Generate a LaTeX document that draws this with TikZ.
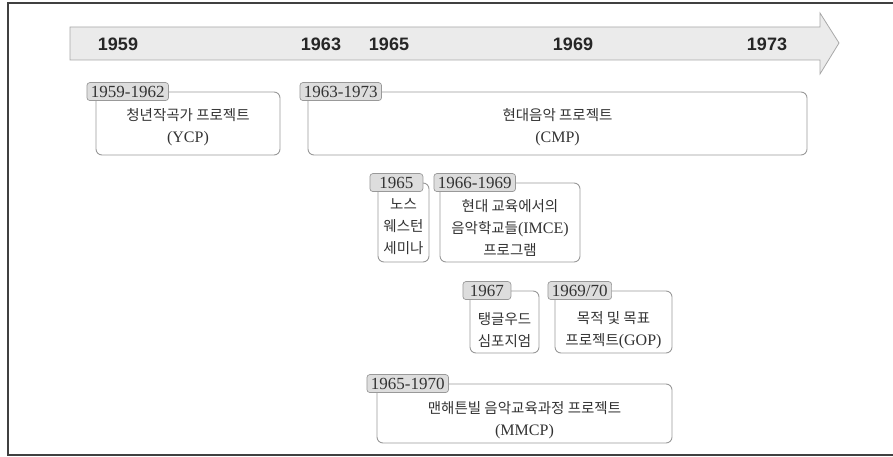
\documentclass[tikz,border=0pt]{standalone}
\usepackage{fontspec}
\setmainfont{Liberation Serif}
\newfontfamily\krfont{Noto Sans CJK KR}
\newfontfamily\yrfont{Liberation Sans}
\newcommand\hg[1]{{\krfont\fontsize{14.5}{22}\selectfont #1}}
\definecolor{barfill}{HTML}{EBEBEB}
\definecolor{barline}{HTML}{A8A8A8}
\definecolor{tagfill}{HTML}{DDDDDD}
\definecolor{boxline}{HTML}{999999}
\definecolor{ink}{HTML}{333333}
\begin{document}
\begin{tikzpicture}[x=1pt,y=-1pt,
    prj/.style={draw=boxline,line width=0.9pt,rounded corners=6pt,fill=white,inner sep=0pt},
    tagbox/.style={draw=boxline,line width=0.7pt,fill=tagfill,rounded corners=3pt,
        inner xsep=4pt,inner ysep=1.5pt,minimum height=18pt,minimum width=48pt,
        text=ink,font=\fontsize{17}{18}\selectfont},
    txt/.style={align=center,inner sep=0pt,text=ink,font=\fontsize{16}{22}\selectfont},
    yrlabel/.style={text=black!85,font=\yrfont\bfseries\fontsize{18}{20}\selectfont}]
    \useasboundingbox (0,0) rectangle (893,457);
    % frame
    \draw[black!75,line width=2pt] (8,3) rectangle (900,455);
    % time bar
    \draw[barline,fill=barfill,line width=0.8pt] (70,27) -- (820,27) -- (820,13) -- (839,43)
        -- (820,74) -- (820,60) -- (70,60) -- cycle;
    \node[yrlabel] (y59) at (118,44) {1959};
    \node[yrlabel] (y63) at (321,44) {1963};
    \node[yrlabel] (y65) at (389,44) {1965};
    \node[yrlabel] (y69) at (573,44) {1969};
    \node[yrlabel] (y73) at (767,44) {1973};
    % projects
    \node[prj,minimum width=184pt,minimum height=63pt] (ycp) at (188,123.5) {};
    \node[txt] (ycptxt) at ([yshift=-4pt]ycp.center) {\hg{청년작곡가 프로젝트}\\(YCP)};
    \node[tagbox,anchor=west] (ycptag) at ([xshift=-9pt]ycp.north west) {1959-1962};

    \node[prj,minimum width=499pt,minimum height=63pt] (cmp) at (557.5,123.5) {};
    \node[txt] (cmptxt) at ([yshift=-4pt]cmp.center) {\hg{현대음악 프로젝트}\\(CMP)};
    \node[tagbox,anchor=west] (cmptag) at ([xshift=-8pt]cmp.north west) {1963-1973};

    \node[prj,minimum width=51pt,minimum height=79pt] (nws) at (403.5,222.5) {};
    \node[txt] (nwstxt) at ([yshift=-4.5pt]nws.center) {\hg{노스}\\\hg{웨스턴}\\\hg{세미나}};
    \node[tagbox,anchor=west,minimum width=53pt] (nwstag) at ([xshift=-8pt]nws.north west) {1965};

    \node[prj,minimum width=140pt,minimum height=79pt] (imce) at (510,222.5) {};
    \node[txt] (imcetxt) at ([yshift=-5pt]imce.center) {\hg{현대 교육에서의}\\\hg{음악학교들}(IMCE)\\\hg{프로그램}};
    \node[tagbox,anchor=west] (imcetag) at ([xshift=-6pt]imce.north west) {1966-1969};

    \node[prj,minimum width=69pt,minimum height=62pt] (tgw) at (504.5,322) {};
    \node[txt] (tgwtxt) at ([yshift=-8pt]tgw.center) {\hg{탱글우드}\\\hg{심포지엄}};
    \node[tagbox,anchor=west] (tgwtag) at ([xshift=-7pt]tgw.north west) {1967};

    \node[prj,minimum width=117pt,minimum height=62pt] (gop) at (613.5,322) {};
    \node[txt] (goptxt) at ([yshift=-8pt]gop.center) {\hg{목적 및 목표}\\\hg{프로젝트}(GOP)};
    \node[tagbox,anchor=west] (goptag) at ([xshift=-7pt]gop.north west) {1969/70};

    \node[prj,minimum width=295pt,minimum height=59pt] (mmcp) at (524.5,413.5) {};
    \node[txt] (mmcptxt) at ([yshift=-6.5pt]mmcp.center) {\hg{맨해튼빌 음악교육과정 프로젝트}\\(MMCP)};
    \node[tagbox,anchor=west] (mmcptag) at ([xshift=-10pt]mmcp.north west) {1965-1970};
\end{tikzpicture}
\end{document}
